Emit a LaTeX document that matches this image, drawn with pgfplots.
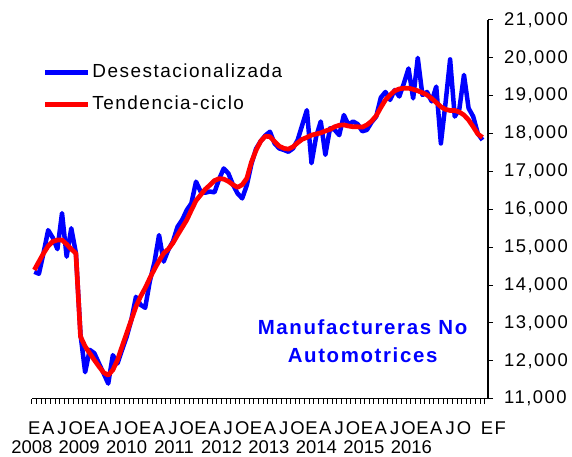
\documentclass[border=0pt]{standalone}
\usepackage{fontspec}
\setmainfont{Liberation Sans}[LetterSpace=8]
\newfontfamily\plainfont{Liberation Sans}
\usepackage{pgfplots}
\usepackage{pgfplotstable}
\pgfplotsset{compat=1.18}

% m = mes (0 = ene 2008), des = desestacionalizada, ten = tendencia-ciclo
\pgfplotstableread{
m des ten
0 14350 14400
1 14300 14620
2 14850 14840
3 15450 15030
4 15250 15150
5 14950 15190
6 15900 15190
7 14750 15080
8 15500 14950
9 14850 14840
10 12700 12640
11 11700 12380
12 12290 12200
13 12200 12020
14 11930 11850
15 11670 11690
16 11400 11620
17 12150 11760
18 11930 12020
19 12290 12380
20 12640 12730
21 13080 13080
22 13690 13430
23 13480 13700
24 13400 13920
25 14100 14180
26 14600 14420
27 15320 14640
28 14620 14840
29 14930 14950
30 15150 15110
31 15540 15320
32 15720 15520
33 15980 15720
34 16160 15980
35 16730 16230
36 16470 16380
37 16440 16530
38 16470 16640
39 16450 16760
40 16800 16810
41 17080 16800
42 16950 16740
43 16650 16650
44 16420 16580
45 16290 16650
46 16640 16820
47 17200 17250
48 17600 17560
49 17800 17800
50 17950 17930
51 18050 17920
52 17740 17790
53 17610 17670
54 17570 17610
55 17520 17590
56 17610 17650
57 17830 17760
58 18230 17850
59 18620 17900
60 17220 17960
61 17920 17990
62 18320 18020
63 17440 18070
64 18140 18110
65 18100 18180
66 17960 18220
67 18490 18230
68 18230 18200
69 18320 18180
70 18250 18180
71 18060 18170
72 18100 18230
73 18300 18330
74 18450 18470
75 18950 18690
76 19100 18890
77 18890 19020
78 19150 19130
79 18980 19180
80 19330 19200
81 19720 19200
82 18930 19170
83 20000 19130
84 19020 19080
85 19100 19020
86 18850 18930
87 19240 18820
88 17740 18710
89 18800 18640
90 19960 18610
91 18450 18610
92 18650 18570
93 19550 18490
94 18670 18360
95 18450 18180
96 18000 17990
97 17830 17900
}\datos

\begin{document}
\begin{tikzpicture}[font=\fontsize{18.5}{22}\selectfont]
\begin{axis}[
    width=456bp, height=378.7bp, scale only axis,
    xmin=-0.5, xmax=98.2, ymin=11000, ymax=21000,
    axis x line*=bottom, axis y line*=right,
    axis line style={line width=1.2bp},
    tick align=outside,
    major tick length=0pt, minor tick length=5bp,
    every tick/.style={black, line width=1bp},
    xtick={0,3,6,9,12,15,18,21,24,27,30,33,36,39,42,45,48,51,54,57,60,63,66,69,72,75,78,81,84,87,90,93,96},
    xticklabels={E,A,J,O,E,A,J,O,E,A,J,O,E,A,J,O,E,A,J,O,E,A,J,O,E,A,J,O,E,A,J,O,{\makebox[0pt][l]{\hspace{3bp}EF}}},
    minor xtick={-0.5,0.5,...,97.5},
    xticklabel style={anchor=base, yshift=-36bp, inner sep=0pt},
    extra x ticks={-0.5,9.71,19.98,30.25,40.52,50.79,61.06,71.33,81.6},
    extra x tick labels={2008,2009,2010,2011,2012,2013,2014,2015,2016},
    extra x tick style={tick label style={yshift=-18.5bp,
        font=\plainfont\fontsize{18.5}{22}\selectfont}},
    ytick={11000,12000,...,21000},
    minor ytick={11000,12000,...,21000},
    scaled y ticks=false,
    yticklabel style={anchor=west, xshift=16bp, inner sep=0pt,
        /pgf/number format/.cd, 1000 sep={,}, assume math mode=true},
    legend style={at={(rel axis cs:0.023,0.89)}, anchor=north west,
        draw=none, fill=none, inner sep=0pt, row sep=11bp,
        font=\fontsize{19}{22}\selectfont,
        nodes={text height=14bp, text depth=3bp, inner sep=2bp}},
    legend cell align=left,
    legend image code/.code={\draw[#1] (0bp,0bp) -- (43bp,0bp);},
]
\addplot[blue, line width=4.5bp, line join=round] table[x=m, y=des] {\datos};
\addlegendentry{Desestacionalizada}
\addplot[red, line width=4.7bp, line join=round] table[x=m, y=ten] {\datos};
\addlegendentry{Tendencia-ciclo}
\node[font=\bfseries\fontsize{20.5}{28}\selectfont, text=blue, align=center]
    at (rel axis cs:0.725,0.152) {Manufactureras No\\Automotrices};
\end{axis}
\pgfresetboundingbox
\path[use as bounding box] ([shift={(-32bp,-58.3bp)}]current axis.south west)
    rectangle ([shift={(84bp,20bp)}]current axis.north east);
\end{tikzpicture}
\end{document}
